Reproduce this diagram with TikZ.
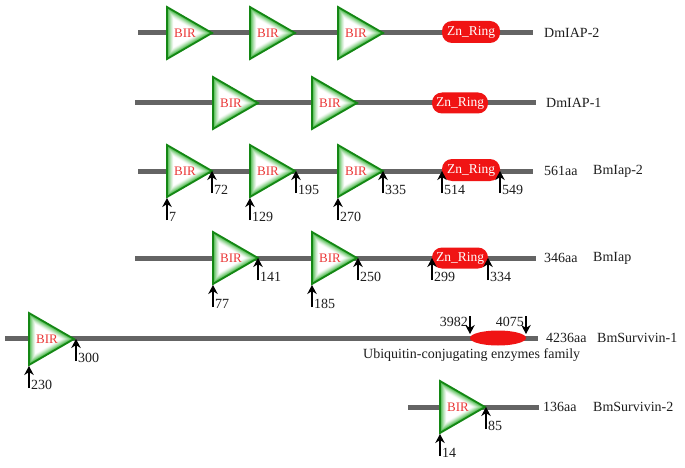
\documentclass[tikz,border=0pt]{standalone}
\usepackage{fontspec}
\setmainfont{Liberation Serif}
\usetikzlibrary{arrows.meta,shapes.geometric}
\definecolor{birgreen}{RGB}{45,175,45}
\definecolor{birdark}{RGB}{20,135,20}
\definecolor{znred}{RGB}{240,20,20}
\definecolor{linegray}{RGB}{100,100,100}
\definecolor{birred}{RGB}{235,55,55}
\definecolor{txt}{RGB}{30,30,30}
\tikzset{
  protline/.style={draw=linegray, line width=5pt},
  birtext/.style={text=birred, font=\fontsize{13}{15}\selectfont, inner sep=0pt},
  znbox/.style={fill=znred, text=white, rounded corners=10pt, minimum width=58pt, minimum height=22pt, inner sep=0pt, font=\fontsize{13.5}{15}\selectfont},
  lbl/.style={font=\fontsize{14}{16}\selectfont, text=txt, inner sep=0pt, anchor=west},
  numlbl/.style={font=\fontsize{14}{16}\selectfont, text=txt, inner sep=0pt},
  posarr/.style={-{Stealth[length=9pt,width=9.5pt]}, line width=1.4pt, black},
}
\newcommand\birtri[3]{%
  \begin{scope}[shift={(#2+15,#3)}]
    \foreach \i in {0,...,14}{
      \pgfmathsetmacro\myscale{1-\i*0.032}
      \pgfmathtruncatemacro\mymix{100*(1-\i/14)^1.4}
      \fill[birgreen!\mymix!white, scale=\myscale] (-15,-26) -- (-15,26) -- (30,0) -- cycle;
    }
    \draw[birdark, line width=1.8pt] (-15,-26) -- (-15,26) -- (30,0) -- cycle;
  \end{scope}
  \node[birtext] (#1) at (#2+18,#3) {BIR};
}
\newcommand\uparr[4]{%
  \coordinate (#1t) at (#2,#3);
  \coordinate (#1b) at (#2,#3+22);
  \draw[posarr] (#1b) -- (#1t);
  \node[numlbl, anchor=west] (#1l) at (#2+2,#3+19) {#4};
}
\newcommand\downarr[4]{%
  \coordinate (#1t) at (#2,#3);
  \coordinate (#1b) at (#2,#3-18);
  \draw[posarr] (#1b) -- (#1t);
  \node[numlbl, anchor=east] (#1l) at (#2-2,#3-12) {#4};
}
\begin{document}
\begin{tikzpicture}[x=1pt,y=-1pt]
\useasboundingbox[fill=white] (0,0) rectangle (685,468);
% ---- lines
\coordinate (r1s) at (138,33);  \coordinate (r1e) at (533,33);
\coordinate (r2s) at (135,103); \coordinate (r2e) at (536,103);
\coordinate (r3s) at (138,171); \coordinate (r3e) at (533,171);
\coordinate (r4s) at (135,258); \coordinate (r4e) at (536,258);
\coordinate (r5s) at (5,338);   \coordinate (r5e) at (538,338);
\coordinate (r6s) at (408,407); \coordinate (r6e) at (539,407);
\foreach \r in {1,...,6} \draw[protline] (r\r s) -- (r\r e);
% ---- row 1 DmIAP-2
\birtri{b11}{167}{33}
\birtri{b12}{250}{33}
\birtri{b13}{338}{33}
\node[znbox] (z1) at (471,32) {Zn\_Ring};
\node[lbl] (n1) at (544,33) {DmIAP-2};
% ---- row 2 DmIAP-1
\birtri{b21}{213}{103}
\birtri{b22}{312}{103}
\node[znbox, minimum width=56pt, minimum height=21pt] (z2) at (460,103) {Zn\_Ring};
\node[lbl] (n2) at (546,103) {DmIAP-1};
% ---- row 3 BmIap-2
\birtri{b31}{167}{171}
\birtri{b32}{250}{171}
\birtri{b33}{338}{171}
\node[znbox] (z3) at (471,170) {Zn\_Ring};
\uparr{a7}{167}{198}{7}
\uparr{a72}{212}{171}{72}
\uparr{a129}{250}{198}{129}
\uparr{a195}{296}{171}{195}
\uparr{a270}{338}{198}{270}
\uparr{a335}{383}{171}{335}
\uparr{a514}{442}{171}{514}
\uparr{a549}{500}{171}{549}
\node[lbl] (s3) at (544,171) {561aa};
\node[lbl] (n3) at (593,171) {BmIap-2};
% ---- row 4 BmIap
\birtri{b41}{213}{258}
\birtri{b42}{312}{258}
\node[znbox, minimum width=56pt, minimum height=21pt] (z4) at (460,258) {Zn\_Ring};
\uparr{a77}{213}{285}{77}
\uparr{a141}{258}{258}{141}
\uparr{a185}{312}{285}{185}
\uparr{a250}{358}{258}{250}
\uparr{a299}{432}{258}{299}
\uparr{a334}{488}{258}{334}
\node[lbl] (s4) at (544,258) {346aa};
\node[lbl] (n4) at (593,258) {BmIap};
% ---- row 5 BmSurvivin-1
\birtri{b51}{29}{339}
\uparr{a230}{29}{366}{230}
\uparr{a300}{76}{339}{300}
\node[ellipse, fill=znred, minimum width=56pt, minimum height=15pt, inner sep=0pt] (ub) at (498,338) {};
\downarr{a3982}{470}{334}{3982}
\downarr{a4075}{526}{334}{4075}
\node[lbl] (u5) at (363,355) {Ubiquitin-conjugating enzymes family};
\node[lbl] (s5) at (546,338) {4236aa};
\node[lbl] (n5) at (597,338) {BmSurvivin-1};
% ---- row 6 BmSurvivin-2
\birtri{b61}{440}{407}
\uparr{a14}{440}{434}{14}
\uparr{a85}{486}{407}{85}
\node[lbl] (s6) at (543,407) {136aa};
\node[lbl] (n6) at (593,407) {BmSurvivin-2};
\end{tikzpicture}
\end{document}
